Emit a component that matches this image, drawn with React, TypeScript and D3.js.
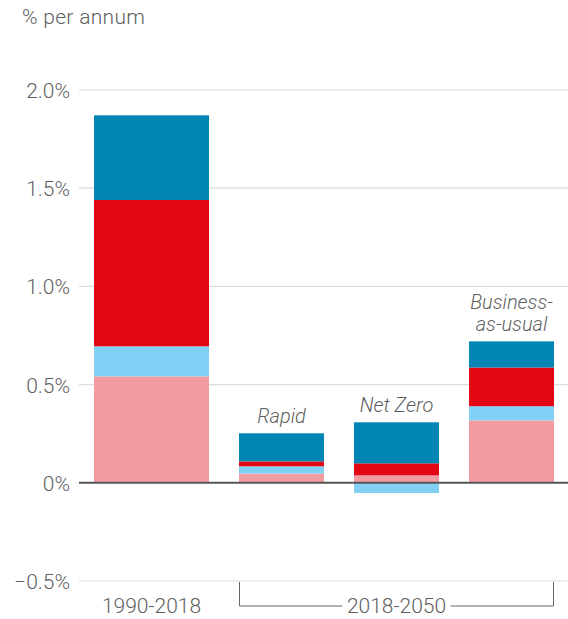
import React from "react";
import * as d3 from "d3";

const categories = ["1990-2018", "Rapid", "Net Zero", "Business-as-usual"];
const seriesKeys = ["pink", "lightblue", "red", "blue"];
const pinkValues = [0.542, 0.047, 0.038, 0.318];
const lightBlueValues = [0.153, 0.037, -0.052, 0.072];
const redValues = [0.745, 0.025, 0.061, 0.197];
const blueValues = [0.431, 0.143, 0.209, 0.133];
const seriesColors = ["#f29ca2", "#82d0f5", "#e30613", "#0085b5"];
const yTicks = [-0.5, 0, 0.5, 1.0, 1.5, 2.0];
const scenarioLabels = [[], ["Rapid"], ["Net Zero"], ["Business-", "as-usual"]];
const periodLabels = ["1990-2018", "2018-2050"];

const W = 568;
const H = 619;
const FONT = "Roboto, 'Liberation Sans', sans-serif";
const TEXT = "#5f5f5f";

export default function App() {
  const rows = categories.map((c, i) => ({
    cat: c,
    pink: pinkValues[i],
    lightblue: lightBlueValues[i],
    red: redValues[i],
    blue: blueValues[i],
  }));
  const stack = d3.stack<any>().keys(seriesKeys).offset(d3.stackOffsetDiverging);
  const stacked = stack(rows);

  const y = d3.scaleLinear().domain([-0.5, 2.0]).range([581, 90]);
  const x = d3
    .scaleBand<string>()
    .domain(categories)
    .range([124, 554])
    .paddingInner(30 / 115)
    .paddingOuter(0);
  const bw = x.bandwidth();
  const extraFirst = 30;
  const barX = (c: string, i: number) => (x(c) as number) - (i === 0 ? extraFirst : 0);
  const barW = (i: number) => bw + (i === 0 ? extraFirst : 0);

  const gridX0 = 79;
  const gridX1 = W;

  const fmt = (v: number) => (v === 0 ? "0%" : d3.format(".1f")(v) + "%");

  const b2 = x(categories[1]) as number;
  const b4 = (x(categories[3]) as number) + bw;
  const bracketTop = y(-0.5) + 1;
  const bracketY = 606;
  const midX = (b2 + b4) / 2;
  const halfGap = 54;

  const firstCenter = barX(categories[0], 0) + barW(0) / 2;

  return (
    <svg
      width={W}
      height={H}
      style={{ position: "absolute", left: 0, top: 0, fontFamily: FONT, fontWeight: 300 }}
    >
      <rect width={W} height={H} fill="#fff" />
      <text x={22} y={24} fontSize={21} fill={TEXT} letterSpacing={0.3}>
        % per annum
      </text>
      {yTicks.map((t) => (
        <g key={t}>
          {t !== 0 && (
            <line x1={gridX0} x2={gridX1} y1={y(t)} y2={y(t)} stroke="#dcdcdc" strokeWidth={1.2} />
          )}
          <text
            x={70}
            y={y(t) + 8}
            textAnchor="end"
            fontSize={21}
            fill={TEXT}
          >
            {fmt(t)}
          </text>
        </g>
      ))}
      {stacked.map((s, si) => (
        <g key={s.key} fill={seriesColors[si]}>
          {s.map((d, i) => (
            <rect
              key={i}
              x={barX(categories[i], i)}
              width={barW(i)}
              y={y(Math.max(d[0], d[1]))}
              height={Math.abs(y(d[0]) - y(d[1]))}
            />
          ))}
        </g>
      ))}
      <line x1={gridX0} x2={gridX1} y1={y(0)} y2={y(0)} stroke="#555" strokeWidth={2} />
      {scenarioLabels.map((lines, i) => {
        if (!lines.length) return null;
        const top = d3.max(stacked, (s) => s[i][1]) as number;
        const cx = (x(categories[i]) as number) + bw / 2;
        return (
          <text
            key={i}
            x={cx}
            textAnchor="middle"
            fontSize={20}
            fontStyle="italic"
            fill={TEXT}
          >
            {lines.map((l, li) => (
              <tspan key={li} x={cx} y={y(top) - 10 - (lines.length - 1 - li) * 22}>
                {l}
              </tspan>
            ))}
          </text>
        );
      })}
      <text x={firstCenter} y={613} textAnchor="middle" fontSize={21} fill={TEXT}>
        {periodLabels[0]}
      </text>
      <path
        d={`M${b2 + 0.5},${bracketTop} V${bracketY} H${midX - halfGap} M${midX + halfGap},${bracketY} H${b4 - 0.5} V${bracketTop}`}
        fill="none"
        stroke="#666"
        strokeWidth={1}
      />
      <text x={midX} y={613} textAnchor="middle" fontSize={21} fill={TEXT}>
        {periodLabels[1]}
      </text>
    </svg>
  );
}
